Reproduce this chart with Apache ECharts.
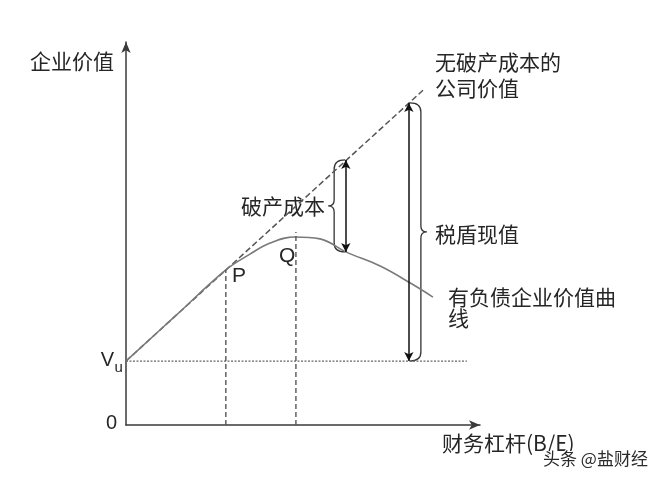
<!DOCTYPE html>
<html><head><meta charset="utf-8">
<script src="https://cdn.jsdelivr.net/npm/echarts@6/dist/echarts.min.js"></script>
<style>html,body{margin:0;padding:0;background:#fff}#c{width:662px;height:481px}</style>
</head><body><div id="c"></div>
<script>
// ---- data (arbitrary conceptual units) ----
const VU = 16.7;
const noCostX = [0, 83.9];
const noCostY = [16.7, 87.4];
const leveredX = [0, 14.1, 28.2, 35.0, 40.7, 47.7, 54.8, 62.1, 71.8, 80.8, 86.7];
const leveredY = [16.7, 28.6, 40.5, 44.6, 47.5, 49.1, 48.6, 45.2, 41.5, 36.8, 33.4];
const pointP = [28.2, 40.5];
const pointQ = [48.0, 50.4];
const vuLineEndX = 96.3;
const bankruptcyArrow = [62.1, 69.2, 45.2];   // x, top, bottom
const taxShieldArrow = [79.9, 84.1, 16.7];
const braceBankruptcy = [58.8, 69.2, 45.2, -1]; // spine x, top, bottom, direction
const braceTaxShield = [83.3, 84.1, 16.7, 1];
const yTickValues = [0, VU];
const yTickLabels = [['0', ''], ['V', 'u']]; // main text, subscript

const CJK = '"Noto Sans CJK SC", sans-serif';
const LAT = '"Liberation Sans", Arial, sans-serif';

const chart = echarts.init(document.getElementById('c'));
function txt(text, x, y, size, font, align) {
  return { type: 'text', x: x, y: y, silent: true,
    style: { text: text, fill: '#262626', font: size + 'px ' + font,
      align: align || 'left', verticalAlign: 'middle' } };
}
const option = {
  animation: false,
  backgroundColor: '#fff',
  grid: { left: 126, right: 182, top: 42, bottom: 56 },
  xAxis: {
    type: 'value', min: 0, max: 100,
    axisLine: { lineStyle: { color: '#3a3a3a', width: 1.5 }, symbol: ['none', 'arrow'], symbolSize: [7, 11] },
    axisTick: { show: false }, axisLabel: { show: false }, splitLine: { show: false }
  },
  yAxis: {
    type: 'value', min: 0, max: 100,
    axisLine: { show: true, lineStyle: { color: '#3a3a3a', width: 1.5 }, symbol: ['none', 'arrow'], symbolSize: [7, 11] },
    axisTick: { show: false }, splitLine: { show: false }, axisLabel: { show: false }
  },
  series: [
    { type: 'line', data: noCostX.map((x, i) => [x, noCostY[i]]), symbol: 'none',
      lineStyle: { color: '#555', width: 1.5, type: [6, 3] },
      markLine: {
        silent: true, symbol: ['arrow', 'arrow'], symbolSize: [7, 9],
        label: { show: false },
        lineStyle: { color: '#111', width: 1.5, type: 'solid' },
        data: [
          [{ coord: [bankruptcyArrow[0], bankruptcyArrow[1]] }, { coord: [bankruptcyArrow[0], bankruptcyArrow[2]] }],
          [{ coord: [taxShieldArrow[0], taxShieldArrow[1]] }, { coord: [taxShieldArrow[0], taxShieldArrow[2]] }]
        ]
      } },
    { type: 'line', data: leveredX.map((x, i) => [x, leveredY[i]]), symbol: 'none', smooth: 0.4,
      lineStyle: { color: '#7a7a7a', width: 1.6 } },
    { type: 'line', data: [[0, VU], [vuLineEndX, VU]], symbol: 'none',
      lineStyle: { color: '#666', width: 1.3, type: [2, 1.5] } },
    { type: 'line', data: [[pointP[0], 0], pointP], symbol: 'none',
      lineStyle: { color: '#555', width: 1.4, type: [5, 3] } },
    { type: 'line', data: [[pointQ[0], 0], pointQ], symbol: 'none',
      lineStyle: { color: '#555', width: 1.4, type: [5, 3] } },
    { type: 'custom', data: [braceBankruptcy, braceTaxShield], silent: true,
      renderItem: function (params, api) {
        const x = api.value(0), dir = api.value(3);
        const pt = api.coord([x, api.value(1)]), pb = api.coord([x, api.value(2)]);
        const sx = pt[0], t = pt[1], b = pb[1], m = (t + b) / 2;
        const tip = sx + dir * 6, end = sx - dir * 11, r = 9;
        const d = 'M' + end + ',' + t + ' Q' + sx + ',' + t + ' ' + sx + ',' + (t + r) +
          ' L' + sx + ',' + (m - 6) + ' Q' + sx + ',' + m + ' ' + tip + ',' + m +
          ' Q' + sx + ',' + m + ' ' + sx + ',' + (m + 6) +
          ' L' + sx + ',' + (b - r) + ' Q' + sx + ',' + b + ' ' + end + ',' + b;
        return { type: 'path', shape: { pathData: d }, style: { fill: 'none', stroke: '#333', lineWidth: 1.3 } };
      } }
  ],
  graphic: [
    txt('企业价值', 30, 61, 21, CJK),
    txt('无破产成本的', 435, 62, 21, CJK),
    txt('公司价值', 435, 88, 21, CJK),
    txt('破产成本', 241, 206, 21, CJK),
    txt('税盾现值', 435, 234, 21, CJK),
    txt('有负债企业价值曲', 448, 297, 21, CJK),
    txt('线', 448, 318, 21, CJK),
    txt('P', 232, 276, 21, LAT),
    txt('Q', 279, 256, 21, LAT),
    txt('财务杠杆(B/E)', 442, 443, 21, CJK),
    { type: 'text', x: 543, y: 459, silent: true,
      style: { text: '头条 @盐财经', fill: '#2a2a2a', font: '17px ' + CJK, verticalAlign: 'middle',
        stroke: '#fff', lineWidth: 2 } }
  ]
};
chart.setOption(option);

// y tick labels (with subscript) placed through the axis scale
const tickGraphics = [];
yTickValues.forEach(function (v, i) {
  const py = chart.convertToPixel({ yAxisIndex: 0 }, v);
  const lab = yTickLabels[i];
  if (lab[1]) {
    tickGraphics.push(txt(lab[0], 114, py - 1, 20, LAT, 'right'));
    tickGraphics.push(txt(lab[1], 114.5, py + 7, 15, LAT, 'left'));
  } else {
    tickGraphics.push(txt(lab[0], 117, py - 1.5, 20, LAT, 'right'));
  }
});
chart.setOption({ graphic: option.graphic.concat(tickGraphics) });
</script></body></html>
